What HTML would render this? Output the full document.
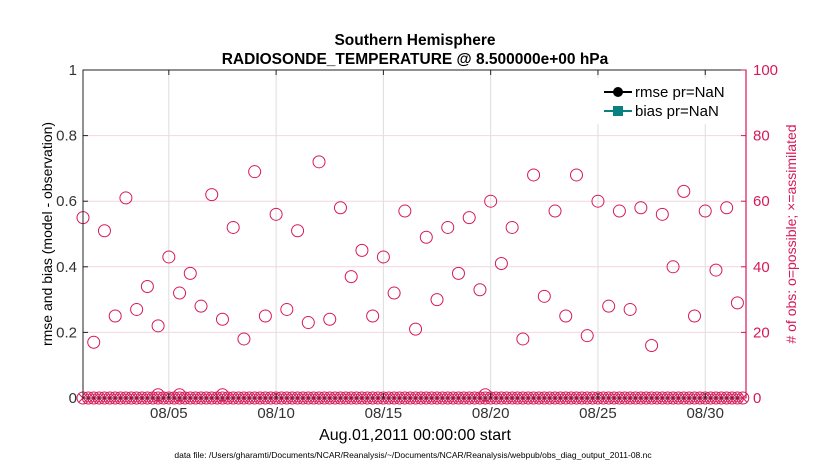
<!DOCTYPE html>
<html><head><meta charset="utf-8"><style>
body{margin:0;background:#fff;font-family:"Liberation Sans",sans-serif}
svg text{font-family:"Liberation Sans",sans-serif}
</style></head><body>
<svg id="chart" width="830" height="470" xmlns="http://www.w3.org/2000/svg">
<text x="415" y="45" text-anchor="middle" font-size="15.5" font-weight="bold">Southern Hemisphere</text>
<text x="415" y="64" text-anchor="middle" font-size="15.5" font-weight="bold">RADIOSONDE_TEMPERATURE @ 8.500000e+00 hPa</text>
<g id="grid"></g>
<g id="marks"></g>
<rect x="83" y="70" width="663" height="328" fill="none" stroke="#222" stroke-width="1"/>
<line x1="746" y1="70" x2="746" y2="398" stroke="#d6195a" stroke-width="1.2"/>
<g id="axes"></g>
<g>
<rect x="592" y="78" width="150" height="46" fill="#fff"/>
<g><line x1="604" y1="92" x2="632" y2="92" stroke="#000" stroke-width="2"/><circle cx="618" cy="92" r="5" fill="#000"/><text x="635" y="97" font-size="15">rmse pr=NaN</text></g>
<g><line x1="604" y1="111" x2="632" y2="111" stroke="#0b8080" stroke-width="2"/><rect x="613" y="106" width="10" height="10" fill="#0b8080"/><text x="635" y="116" font-size="15">bias pr=NaN</text></g>
</g>
<text transform="translate(52,234) rotate(-90)" text-anchor="middle" font-size="14">rmse and bias (model - observation)</text>
<text transform="translate(796,234) rotate(-90)" text-anchor="middle" font-size="14" fill="#d6195a"># of obs: o=possible; ×=assimilated</text>
<text x="415" y="440" text-anchor="middle" font-size="16">Aug.01,2011 00:00:00 start</text>
<text x="413" y="458" text-anchor="middle" font-size="8.5">data file: /Users/gharamti/Documents/NCAR/Reanalysis/~/Documents/NCAR/Reanalysis/webpub/obs_diag_output_2011-08.nc</text>
</svg>
<script>
const xTickDays=[4,9,14,19,24,29];
const xTickLabels=["08/05","08/10","08/15","08/20","08/25","08/30"];
const leftTicks=[0,0.2,0.4,0.6,0.8,1];
const rightTicks=[0,20,40,60,80,100];
const possibleCounts=[55,17,51,25,61,27,34,22,43,32,38,28,62,24,52,18,69,25,56,27,51,23,72,24,58,37,45,25,43,32,57,21,49,30,52,38,55,33,60,41,52,18,68,31,57,25,68,19,60,28,57,27,58,16,56,40,63,25,57,39,58,29];
const lowDays=[3.5,4.5,6.5,18.75];
const lowCounts=[1,1,1,1];
const NS="http://www.w3.org/2000/svg";
const X0=83,X1=746,Y0=398,Y1=70,DMAX=30.9;
const xs=d=>X0+d/DMAX*(X1-X0);
const yl=v=>Y0-v*(Y0-Y1);
const yr=v=>Y0-v/100*(Y0-Y1);
const RED="#d6195a";
function mk(tag,parent,attrs){const e=document.createElementNS(NS,tag);for(const k in attrs)e.setAttribute(k,attrs[k]);parent.appendChild(e);return e;}
const grid=document.getElementById('grid'),axes=document.getElementById('axes'),marks=document.getElementById('marks');
xTickDays.forEach((d,i)=>{
 const g=mk('line',grid,{x1:xs(d),x2:xs(d),y1:Y1,y2:Y0,stroke:'#dcdcdc'});
 
 
 const t=mk('text',axes,{x:xs(d),y:Y0+20,'text-anchor':'middle','font-size':'15',fill:'#333'});t.textContent=xTickLabels[i];
 
 
 mk('line',axes,{x1:xs(d),x2:xs(d),y1:Y0,y2:Y0-5,stroke:'#222'});
 mk('line',axes,{x1:xs(d),x2:xs(d),y1:Y1,y2:Y1+5,stroke:'#222'});
});
leftTicks.forEach(v=>{
 if(v>0&&v<1){const g=mk('line',grid,{x1:X0,x2:X1,y1:yl(v),y2:yl(v),stroke:'#f2d6e0'});
 
 }
 mk('line',axes,{x1:X0,x2:X0+5,y1:yl(v),y2:yl(v),stroke:'#222'});
 const t=mk('text',axes,{x:X0-6,y:yl(v)+5,'text-anchor':'end','font-size':'15',fill:'#333'});t.textContent=v===0?'0':(v===1?'1':v.toFixed(1));
 
 
});
rightTicks.forEach(v=>{
 mk('line',axes,{x1:X1,x2:X1-5,y1:yr(v),y2:yr(v),stroke:RED});
 const t=mk('text',axes,{x:X1+7,y:yr(v)+5,'font-size':'15',fill:RED});t.textContent=v;
 
 
});
possibleCounts.forEach((c,i)=>{
 const e=mk('circle',marks,{cx:xs(i*0.5),cy:yr(c),r:6,fill:'none',stroke:RED,'stroke-width':1});
 
 
});
lowDays.forEach((d,i)=>{
 const e=mk('circle',marks,{cx:xs(d),cy:yr(lowCounts[i]),r:6,fill:'none',stroke:RED,'stroke-width':1});
 
 
});
for(let d=0;d<=30.76;d+=0.25){
 const x=xs(d),y=yr(0);
 const c=mk('circle',marks,{cx:x,cy:y,r:6,fill:'none',stroke:RED,'stroke-width':1});
 
 
 const p=mk('path',marks,{d:`M${x-4},${y-4}L${x+4},${y+4}M${x-4},${y+4}L${x+4},${y-4}`,stroke:RED,'stroke-width':1});
 
 
}
</script>
</body></html>
